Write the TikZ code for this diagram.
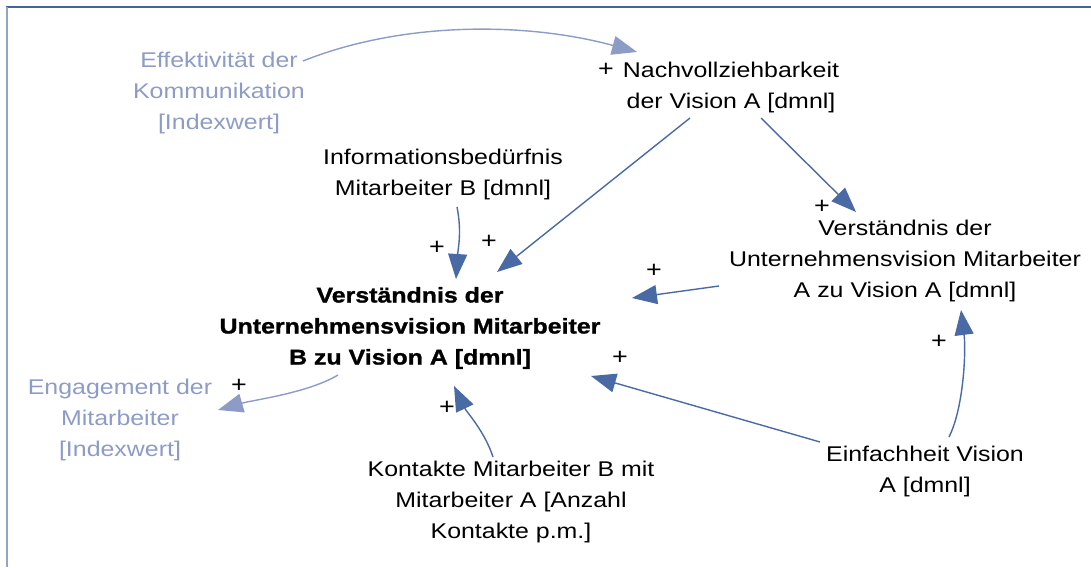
\documentclass[tikz,border=0pt]{standalone}
\usepackage{fontspec}
\setmainfont{Liberation Sans}[FakeStretch=1.17,BoldFeatures={FakeBold=1.2}]
\usepackage{tikz}
\usetikzlibrary{arrows.meta,calc}
\definecolor{linkcol}{HTML}{4A6AA5}
\definecolor{extcol}{HTML}{8D9CC6}
\definecolor{frametop}{HTML}{41649B}
\definecolor{frameleft}{HTML}{8FA6C9}

\begin{document}
\begin{tikzpicture}[x=1pt,y=-1pt,
  var/.style={align=center,inner sep=0pt,font=\fontsize{21.3}{31}\selectfont},
  extvar/.style={var,text=extcol},
  keyvar/.style={var,font=\fontsize{21.3}{31}\selectfont\bfseries},
  pol/.style={inner sep=0pt,font=\fontsize{23}{23}\selectfont},
  link/.style={color=linkcol,line width=1.4pt,-{Triangle[length=25pt,width=19pt]}},
  extlink/.style={link,color=extcol}]
  \useasboundingbox (0,0) rectangle (1091,567);

  % --- frame ---
  \draw[frametop,line width=2pt] (6,7) -- (1091,7);
  \draw[frameleft,line width=2.5pt] (7,7) -- (7,567);

  % --- variables ---
  \node[extvar] (eff) at (219,93) {Effektivität der\\Kommunikation\\{}[Indexwert]};
  \node[var] (nachv) at (731,87) {Nachvollziehbarkeit\\der Vision A [dmnl]};
  \node[var] (info) at (443,174) {Informationsbedürfnis\\Mitarbeiter B [dmnl]};
  \node[keyvar] (main) at (410,328) {Verständnis der\\Unternehmensvision Mitarbeiter\\B zu Vision A [dmnl]};
  \node[var] (rvers) at (905,261) {Verständnis der\\Unternehmensvision Mitarbeiter\\A zu Vision A [dmnl]};
  \node[extvar] (eng) at (120,420) {Engagement der\\Mitarbeiter\\{}[Indexwert]};
  \node[var] (kont) at (511,502) {Kontakte Mitarbeiter B mit\\Mitarbeiter A [Anzahl\\Kontakte p.m.]};
  \node[var] (einf) at (925,471) {Einfachheit Vision\\A [dmnl]};

  % --- links ---
  \draw[extlink] ($(eff)+(84,-32)$) .. controls +(100,-40) and +(-110,-30) .. ($(nachv)+(-94,-35)$);
  \draw[link] ($(nachv)+(-41,31)$) -- ($(main)+(87,-56)$);
  \draw[link] ($(nachv)+(30,31)$) -- ($(rvers)+(-49,-49)$);
  \draw[link] ($(info)+(14,33)$) .. controls +(5,25) and +(2,-30) .. ($(main)+(46,-49)$);
  \draw[link] ($(rvers)+(-186,25)$) -- ($(main)+(222,-30)$);
  \draw[link] ($(einf)+(-105,-29)$) -- ($(main)+(181,48)$);
  \draw[link] ($(einf)+(24,-34)$) .. controls +(15,-30) and +(5,40) .. ($(rvers)+(56,49)$);
  \draw[link] ($(kont)+(-18,-45)$) .. controls +(-8,-25) and +(12,25) .. ($(main)+(44,58)$);
  \draw[extlink] ($(main)+(-72,47)$) .. controls +(-30,18) and +(35,-10) .. ($(eng)+(98,-10)$);

  % --- polarities ---
  \node[pol] (p1) at (606,70) {+};
  \node[pol] (p2) at (489,242) {+};
  \node[pol] (p3) at (822,207) {+};
  \node[pol] (p4) at (437,248) {+};
  \node[pol] (p5) at (654,271) {+};
  \node[pol] (p6) at (620,358) {+};
  \node[pol] (p7) at (939,342) {+};
  \node[pol] (p8) at (447,408) {+};
  \node[pol] (p9) at (239,386) {+};
\end{tikzpicture}
\end{document}
